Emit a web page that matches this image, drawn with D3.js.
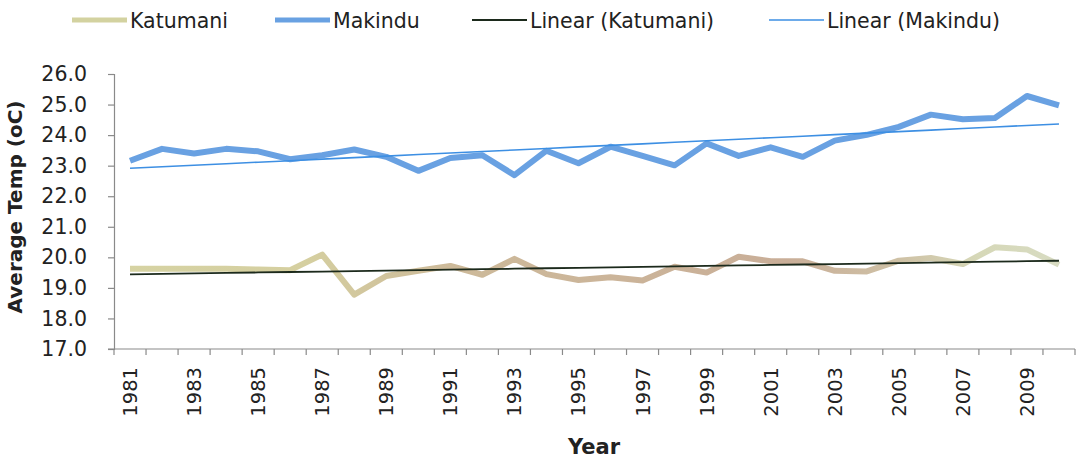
<!DOCTYPE html>
<html><head><meta charset="utf-8">
<script src="https://cdn.jsdelivr.net/npm/d3@7"></script>
<style>html,body{margin:0;padding:0;background:#fff;}svg{display:block;}</style>
</head><body>
<svg id="c" width="1081" height="460"></svg>
<script>
const years = d3.range(1981, 2011);
const katumani = [19.63,19.63,19.63,19.63,19.60,19.58,20.09,18.78,19.39,19.56,
                  19.72,19.43,19.95,19.45,19.26,19.35,19.24,19.69,19.50,20.02,
                  19.87,19.87,19.56,19.54,19.89,19.98,19.78,20.33,20.26,19.76];
const makindu = [23.16,23.55,23.40,23.55,23.47,23.21,23.34,23.53,23.29,22.83,
                 23.25,23.34,22.69,23.49,23.08,23.62,23.32,23.01,23.73,23.32,
                 23.60,23.29,23.82,24.01,24.27,24.67,24.52,24.56,25.28,24.97];
const yTicks = [17,18,19,20,21,22,23,24,25,26];
const xTickLabels = years.filter(y => (y - 1981) % 2 === 0);
const seriesNames = ["Katumani","Makindu","Linear (Katumani)","Linear (Makindu)"];

const font = "'DejaVu Sans', sans-serif";
const svg = d3.select("#c");
const L = 114, R = 1075, T = 74, B = 349;

const x = d3.scaleBand().domain(years).range([L, R]);
const y = d3.scaleLinear().domain([17, 26]).range([B, T]);
const cx = d => x(d) + x.bandwidth() / 2;

// least-squares trendline (as in the spreadsheet's "Linear" trendlines)
function fit(vals) {
  const n = vals.length, xs = d3.range(n);
  const mx = d3.mean(xs), my = d3.mean(vals);
  let num = 0, den = 0;
  xs.forEach((xi, i) => { num += (xi - mx) * (vals[i] - my); den += (xi - mx) ** 2; });
  const b = num / den, a = my - b * mx;
  return xs.map(i => a + b * i);
}

const defs = svg.append("defs");
const g = defs.append("linearGradient").attr("id","kat").attr("gradientUnits","userSpaceOnUse")
  .attr("x1", L).attr("x2", R).attr("y1", 0).attr("y2", 0);
[[0,"#d6d3a3"],[0.2,"#d5cfa0"],[0.35,"#cdba9a"],[0.7,"#c9ae98"],[0.82,"#cfc2a6"],[0.9,"#d6d8b8"],[1,"#d8dcc4"]]
  .forEach(([o,c]) => g.append("stop").attr("offset", o).attr("stop-color", c));

const axisColor = "#8a8a8a";
const textColor = "#222";
const yAxis = svg.append("g").attr("transform", `translate(${L},0)`)
  .call(d3.axisLeft(y).tickValues(yTicks).tickFormat(d3.format(".1f")).tickSize(6).tickPadding(21));
yAxis.select(".domain").attr("stroke", axisColor).attr("stroke-width", 1.2);
yAxis.selectAll(".tick line").attr("stroke", axisColor).attr("stroke-width", 1.2);
yAxis.selectAll("text").attr("font-family", font).attr("font-size", 20.5).attr("fill", textColor);

const xAxisG = svg.append("g").attr("transform", `translate(0,${B})`);
xAxisG.append("line").attr("x1", L - 6).attr("x2", R).attr("y1", 0).attr("y2", 0)
  .attr("stroke", axisColor).attr("stroke-width", 1.2);
xAxisG.selectAll("line.tk").data(d3.range(years.length + 1)).join("line").attr("class","tk")
  .attr("x1", i => L + i * x.step()).attr("x2", i => L + i * x.step())
  .attr("y1", 0).attr("y2", 6).attr("stroke", axisColor).attr("stroke-width", 1.2);
xAxisG.selectAll("text").data(xTickLabels).join("text")
  .attr("transform", d => `translate(${cx(d) + 7},${18}) rotate(-90)`)
  .attr("text-anchor", "end").attr("font-family", font).attr("font-size", 19.5).attr("fill", textColor)
  .text(d => d);

const line = d3.line().x((d, i) => cx(years[i])).y(d => y(d));
svg.append("path").datum(katumani).attr("d", line).attr("fill","none")
  .attr("stroke","url(#kat)").attr("stroke-width",6).attr("stroke-linejoin","round");
svg.append("path").datum(makindu).attr("d", line).attr("fill","none")
  .attr("stroke","#69a1e2").attr("stroke-width",6).attr("stroke-linejoin","round");
svg.append("path").datum(fit(katumani)).attr("d", line).attr("fill","none")
  .attr("stroke","#1c2a1c").attr("stroke-width",1.8);
svg.append("path").datum(fit(makindu)).attr("d", line).attr("fill","none")
  .attr("stroke","#3d8fe3").attr("stroke-width",1.6);

svg.append("text").attr("transform", `translate(22,207) rotate(-90)`)
  .attr("text-anchor","middle").attr("font-family", font).attr("font-weight","bold")
  .attr("font-size", 20).attr("fill",textColor).text("Average Temp (oC)");
svg.append("text").attr("x", 594).attr("y", 454).attr("text-anchor","middle")
  .attr("font-family", font).attr("font-weight","bold").attr("font-size", 21).attr("fill",textColor).text("Year");

const legend = [
  {name: seriesNames[0], x: 72, color: "#d3d2a0", w: 5},
  {name: seriesNames[1], x: 275, color: "#69a1e2", w: 5},
  {name: seriesNames[2], x: 472, color: "#1c2a1c", w: 1.8},
  {name: seriesNames[3], x: 769, color: "#3d8fe3", w: 1.6}
];
const lg = svg.selectAll("g.lg").data(legend).join("g").attr("class","lg")
  .attr("transform", d => `translate(${d.x},20)`);
lg.append("line").attr("x1",0).attr("x2",55).attr("stroke", d => d.color).attr("stroke-width", d => d.w);
lg.append("text").attr("x",58).attr("y",7.5).attr("font-family", font).attr("font-size",20.5)
  .attr("fill",textColor).text(d => d.name);
</script>
</body></html>
